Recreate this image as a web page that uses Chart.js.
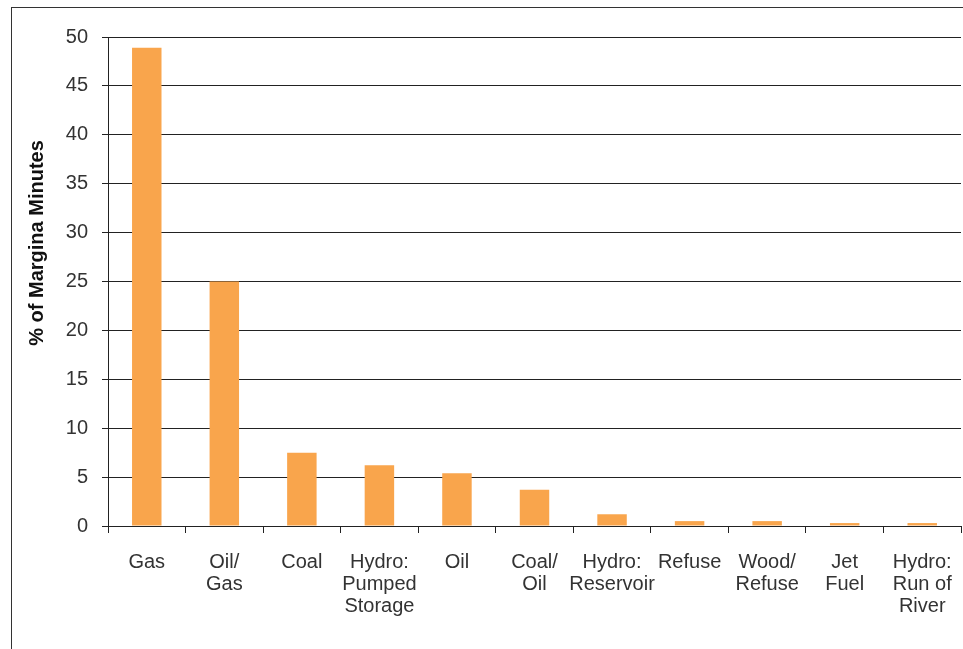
<!DOCTYPE html>
<html>
<head>
<meta charset="utf-8">
<script src="https://cdn.jsdelivr.net/npm/chart.js@4"></script>
<style>
  html, body { margin: 0; padding: 0; background: #fff; }
  #wrap { position: relative; width: 963px; height: 649px; overflow: hidden; }
  #frame { position: absolute; left: 11px; top: 7px; width: 1000px; height: 700px;
           border-left: 1px solid #333; border-top: 1px solid #333; pointer-events: none; }
  canvas { position: absolute; left: 0; top: 0; }
</style>
</head>
<body>
<div id="wrap">
  <canvas id="fuelChart" width="963" height="649"></canvas>
  <div id="frame"></div>
</div>
<script>
const categories = [
  'Gas', ['Oil/', 'Gas'], 'Coal', ['Hydro:', 'Pumped', 'Storage'], 'Oil',
  ['Coal/', 'Oil'], ['Hydro:', 'Reservoir'], 'Refuse', ['Wood/', 'Refuse'],
  ['Jet', 'Fuel'], ['Hydro:', 'Run of', 'River']
];
const marginalShare = [48.9, 25.0, 7.5, 6.2, 5.4, 3.7, 1.2, 0.5, 0.5, 0.3, 0.3];
const yTicks = [0, 5, 10, 15, 20, 25, 30, 35, 40, 45, 50];
const yTitle = '% of Margina Minutes';

const font = { family: 'Liberation Sans, Arial, sans-serif', size: 20 };

// y title sits above the middle of the plot in the original, so draw it by hand
const yTitlePlugin = {
  id: 'yTitle',
  afterDraw(chart) {
    const c = chart.ctx;
    c.save();
    c.translate(37, 243);
    c.rotate(-Math.PI / 2);
    c.font = 'bold 20px ' + font.family;
    c.fillStyle = '#111';
    c.textAlign = 'center';
    c.textBaseline = 'middle';
    c.fillText(yTitle, 0, 0);
    c.restore();
  },
};

const ctx = document.getElementById('fuelChart').getContext('2d');
const fuelChart = new Chart(ctx, {
  type: 'bar',
  data: {
    labels: categories,
    datasets: [{
      data: marginalShare,
      backgroundColor: '#F9A54C',
      borderWidth: 0,
      categoryPercentage: 1,
      barPercentage: 0.38,
    }],
  },
  plugins: [yTitlePlugin],
  options: {
    responsive: false,
    animation: false,
    layout: { padding: { top: 37, right: 2, left: 0, bottom: 0 } },
    plugins: { legend: { display: false }, tooltip: { enabled: false } },
    scales: {
      y: {
        min: 0,
        max: 50,
        afterBuildTicks: (scale) => { scale.ticks = yTicks.map(v => ({ value: v })); },
        afterFit: (scale) => { scale.width = 108; },
        border: { color: '#222', width: 1 },
        grid: { color: '#222', lineWidth: 1, tickLength: 6 },
        ticks: { color: '#333', font, padding: 14 },
      },
      x: {
        afterFit: (scale) => {
          scale.height = 123;
          scale.paddingLeft = 0;
          scale.paddingRight = 0;
        },
        border: { color: '#222', width: 1 },
        grid: { display: true, drawOnChartArea: false, drawTicks: true, tickLength: 7, color: '#222' },
        ticks: { color: '#333', font: { ...font, lineHeight: 1.1 }, padding: 18, maxRotation: 0, autoSkip: false },
      },
    },
  },
});
</script>
</body>
</html>
